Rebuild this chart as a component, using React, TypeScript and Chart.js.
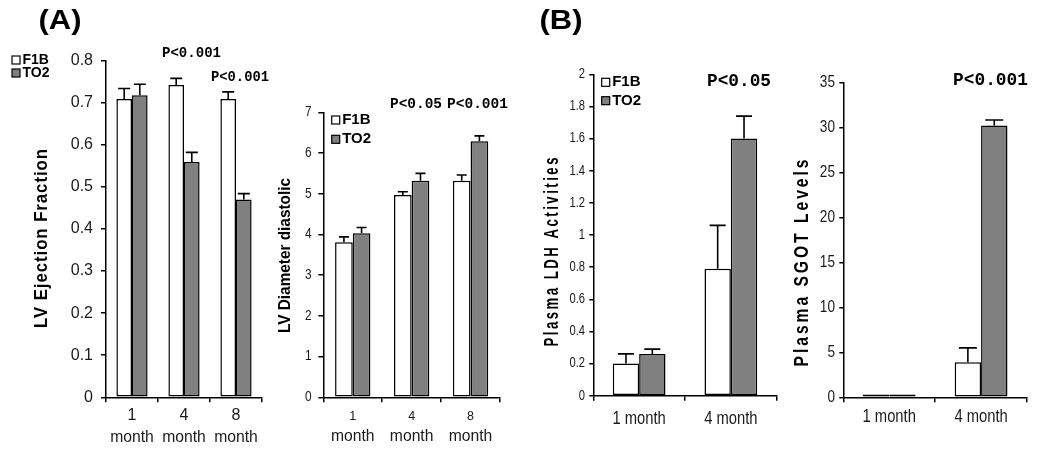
import React, { useEffect, useRef } from "react";
import { Chart, registerables } from "chart.js";

Chart.register(...registerables);

const SANS = "'Liberation Sans', Arial, sans-serif";
const MONO = "'Liberation Mono', 'Courier New', monospace";

// ---------- data ----------
const seriesNames = ["F1B", "TO2"];
const monthLabels3 = [["1", "month"], ["4", "month"], ["8", "month"]];
const monthLabels2 = [["1 month"], ["4 month"]];

// LV Ejection Fraction
const efF1B = [0.709, 0.742, 0.709];
const efF1BErr = [0.025, 0.016, 0.017];
const efTO2 = [0.718, 0.559, 0.47];
const efTO2Err = [0.026, 0.023, 0.014];

// LV Diameter diastolic
const lvddF1B = [3.81, 4.97, 5.32];
const lvddF1BErr = [0.13, 0.08, 0.14];
const lvddTO2 = [4.03, 5.32, 6.29];
const lvddTO2Err = [0.14, 0.18, 0.13];

// Plasma LDH Activities
const ldhF1B = [0.2, 0.79];
const ldhF1BErr = [0.06, 0.27];
const ldhTO2 = [0.26, 1.6];
const ldhTO2Err = [0.03, 0.14];

// Plasma SGOT Levels
const sgotF1B = [0.3, 3.9];
const sgotF1BErr = [0, 1.6];
const sgotTO2 = [0.3, 30.25];
const sgotTO2Err = [0, 0.6];

// y-axis ranges [min, max, step]
const efAxis = [0, 0.8, 0.1];
const lvddAxis = [0, 7, 1];
const ldhAxis = [0, 2, 0.2];
const sgotAxis = [0, 35, 5];

// ---------- drawing helpers ----------
type Txt = {
  text: string;
  x: number;
  y: number;
  font: string;
  rotate?: boolean;
  width?: number;
  sx?: number;
  spacing?: number;
  align?: "center" | "left" | "right";
  color?: string;
};

function drawText(ctx: CanvasRenderingContext2D, t: Txt) {
  ctx.save();
  ctx.font = t.font;
  (ctx as any).letterSpacing = (t.spacing || 0) + "px";
  ctx.fillStyle = t.color || "#000";
  ctx.textBaseline = "middle";
  ctx.textAlign = "left";
  const w = ctx.measureText(t.text).width - (t.spacing || 0);
  const sx = t.width ? t.width / w : t.sx || 1;
  ctx.translate(t.x, t.y);
  if (t.rotate) ctx.rotate(-Math.PI / 2);
  ctx.scale(sx, 1);
  const start = t.align === "left" ? 0 : t.align === "right" ? -w : -w / 2;
  ctx.fillText(t.text, start, 0);
  ctx.restore();
}

const fmt = (v: number) => String(Math.round(v * 1000) / 1000);

const GRAY = "#808080";
const TICK_COLOR = "#1a1a1a";

const panels: any[] = [
  {
    labels: monthLabels3, f1b: efF1B, f1bErr: efF1BErr, to2: efTO2, to2Err: efTO2Err, axis: efAxis,
    area: { l: 106, t: 60.7, r: 262, b: 397.3 },
    catPct: 0.6, cap: 12, yTick: 5,
    yLab: { size: 16, sx: 1, right: 93 },
    xLab: [{ size: 16, sx: 1, y: 415.7 }, { size: 16, sx: 0.98, y: 437.3 }],
    title: { text: "LV Ejection Fraction", x: 42, y: 238.5, font: `bold 18px ${SANS}`, spacing: 1, width: 179, rotate: true },
    legend: { x: 12, y1: 60, y2: 73, size: 14 },
    notes: [
      { text: "P<0.001", x: 191.5, y: 53.3, font: `bold 14px ${MONO}`, width: 59 },
      { text: "P<0.001", x: 240, y: 77.3, font: `bold 14px ${MONO}`, width: 58 },
      { text: "(A)", x: 60, y: 21, font: `bold 28px ${SANS}`, width: 43 },
    ],
  },
  {
    labels: monthLabels3, f1b: lvddF1B, f1bErr: lvddF1BErr, to2: lvddTO2, to2Err: lvddTO2Err, axis: lvddAxis,
    area: { l: 323.3, t: 112.3, r: 500, b: 397.3 },
    catPct: 0.6, cap: 10, yTick: 5,
    yLab: { size: 14, sx: 0.85, right: 311.7 },
    xLab: [{ size: 12.5, sx: 1, y: 416.7 }, { size: 16, sx: 0.98, y: 437 }],
    title: { text: "LV Diameter diastolic", x: 285.5, y: 255.5, font: `bold 16px ${SANS}`, width: 155, rotate: true },
    legend: { x: 331.7, y1: 120, y2: 139.3, size: 15 },
    notes: [
      { text: "P<0.05", x: 416, y: 104, font: `bold 14.5px ${MONO}`, width: 52 },
      { text: "P<0.001", x: 477.5, y: 104, font: `bold 14.5px ${MONO}`, width: 61 },
    ],
  },
  {
    labels: monthLabels2, f1b: ldhF1B, f1bErr: ldhF1BErr, to2: ldhTO2, to2Err: ldhTO2Err, axis: ldhAxis,
    area: { l: 593.3, t: 74.3, r: 776.7, b: 395.7 },
    catPct: 0.575, cap: 16, yTick: 4,
    yLab: { size: 14, sx: 0.8, right: 585 },
    xLab: [{ size: 18, sx: 0.82, y: 419.3 }],
    title: { text: "Plasma LDH Activities", x: 552, y: 252, font: `bold 21px ${SANS}`, spacing: 4, width: 189, rotate: true },
    legend: { x: 601.7, y1: 82.3, y2: 100.7, size: 15 },
    notes: [
      { text: "P<0.05", x: 739, y: 81.7, font: `bold 18px ${MONO}`, width: 64 },
      { text: "(B)", x: 561, y: 21, font: `bold 28px ${SANS}`, width: 43 },
    ],
  },
  {
    labels: monthLabels2, f1b: sgotF1B, f1bErr: sgotF1BErr, to2: sgotTO2, to2Err: sgotTO2Err, axis: sgotAxis,
    area: { l: 843.3, t: 82.7, r: 1027, b: 397.3 },
    catPct: 0.575, cap: 18, yTick: 4,
    yLab: { size: 16, sx: 0.85, right: 835 },
    xLab: [{ size: 18, sx: 0.82, y: 417.5 }],
    title: { text: "Plasma SGOT Levels", x: 802, y: 263, font: `bold 21px ${SANS}`, spacing: 4, width: 207, rotate: true },
    legend: null,
    notes: [{ text: "P<0.001", x: 990.5, y: 80, font: `bold 18px ${MONO}`, width: 75 }],
  },
];

function makeOverlay(p: any) {
  return {
    id: "overlay",
    afterDatasetsDraw(chart: any) {
      const ctx: CanvasRenderingContext2D = chart.ctx;
      const y = chart.scales.y;
      const vals = [p.f1b, p.to2];
      const errs = [p.f1bErr, p.to2Err];
      ctx.save();
      ctx.strokeStyle = "#000";
      ctx.lineWidth = 1.6;
      errs.forEach((errArr: number[], di: number) => {
        const meta = chart.getDatasetMeta(di);
        meta.data.forEach((bar: any, i: number) => {
          const e = errArr[i];
          if (!e) return;
          const top = y.getPixelForValue(vals[di][i]);
          const tip = y.getPixelForValue(vals[di][i] + e);
          const x = bar.x;
          ctx.beginPath();
          ctx.moveTo(x, top);
          ctx.lineTo(x, tip);
          ctx.moveTo(x - p.cap / 2, tip);
          ctx.lineTo(x + p.cap / 2, tip);
          ctx.stroke();
        });
      });
      ctx.restore();
    },
    afterDraw(chart: any) {
      const ctx: CanvasRenderingContext2D = chart.ctx;
      const xs = chart.scales.x;
      const ys = chart.scales.y;
      // y tick labels, placed through the y scale
      ys.ticks.forEach((t: any) => {
        drawText(ctx, {
          text: fmt(t.value),
          x: p.yLab.right,
          y: ys.getPixelForValue(t.value),
          font: `${p.yLab.size}px ${SANS}`,
          sx: p.yLab.sx,
          align: "right",
          color: TICK_COLOR,
        });
      });
      // x category labels, placed through the x scale
      p.labels.forEach((lines: string[], i: number) => {
        const px = xs.getPixelForValue(i);
        lines.forEach((line: string, li: number) => {
          const L = p.xLab[li];
          drawText(ctx, { text: line, x: px, y: L.y, font: `${L.size}px ${SANS}`, sx: L.sx, color: TICK_COLOR });
        });
      });
      drawText(ctx, p.title);
      p.notes.forEach((n: Txt) => drawText(ctx, n));
      if (p.legend) {
        const L = p.legend;
        [L.y1, L.y2].forEach((yy: number, i: number) => {
          ctx.save();
          ctx.fillStyle = i === 0 ? "#ffffff" : GRAY;
          ctx.strokeStyle = "#000";
          ctx.lineWidth = 1.2;
          ctx.fillRect(L.x, yy - 4, 8, 8);
          ctx.strokeRect(L.x, yy - 4, 8, 8);
          ctx.restore();
          drawText(ctx, { text: seriesNames[i], x: L.x + 10.5, y: yy, font: `bold ${L.size}px ${SANS}`, align: "left" });
        });
      }
    },
  };
}

function buildConfig(p: any): any {
  const Y_W = 60;
  const X_H = 50;
  const barStyle = { borderColor: "#000", borderWidth: 1.5, borderSkipped: false, categoryPercentage: p.catPct, barPercentage: 1 };
  return {
    type: "bar",
    data: {
      labels: p.labels.map((l: string[]) => l.join(" ")),
      datasets: [
        { label: seriesNames[0], data: p.f1b, backgroundColor: "#ffffff", ...barStyle },
        { label: seriesNames[1], data: p.to2, backgroundColor: GRAY, ...barStyle },
      ],
    },
    options: {
      responsive: false,
      animation: false,
      devicePixelRatio: 1,
      events: [],
      layout: {
        padding: { left: p.area.l - Y_W, top: p.area.t, right: 1050 - p.area.r, bottom: 454 - p.area.b - X_H },
      },
      plugins: { legend: { display: false }, tooltip: { enabled: false }, title: { display: false } },
      scales: {
        x: {
          afterFit: (s: any) => { s.height = X_H; },
          grid: { display: true, drawOnChartArea: false, drawTicks: true, tickLength: 5, color: "#000", lineWidth: 1.5, offset: true },
          border: { display: true, color: "#000", width: 1.5 },
          ticks: { display: false, autoSkip: false },
        },
        y: {
          min: p.axis[0],
          max: p.axis[1],
          afterFit: (s: any) => { s.width = Y_W; },
          grid: { display: true, drawOnChartArea: false, drawTicks: true, tickLength: p.yTick, color: "#000", lineWidth: 1.5 },
          border: { display: true, color: "#000", width: 1.5 },
          ticks: { display: false, stepSize: p.axis[2] },
        },
      },
    },
    plugins: [makeOverlay(p)],
  };
}

function PanelChart({ p }: { p: any }) {
  const ref = useRef<HTMLCanvasElement>(null);
  useEffect(() => {
    const chart = new Chart(ref.current as HTMLCanvasElement, buildConfig(p));
    return () => chart.destroy();
  }, [p]);
  return <canvas ref={ref} width={1050} height={454} style={{ position: "absolute", left: 0, top: 0 }} />;
}

export default function App() {
  return (
    <div style={{ position: "absolute", left: 0, top: 0, width: 1050, height: 454, background: "#fff" }}>
      {panels.map((p, i) => (
        <PanelChart key={i} p={p} />
      ))}
    </div>
  );
}
